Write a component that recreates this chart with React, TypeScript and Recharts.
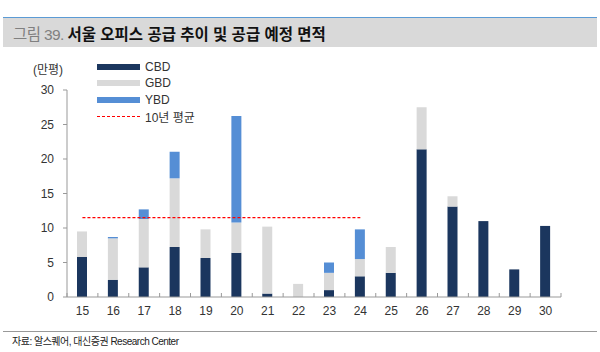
import { ComposedChart, Bar, Line, XAxis, YAxis } from 'recharts';

const years = ['15', '16', '17', '18', '19', '20', '21', '22', '23', '24', '25', '26', '27', '28', '29', '30'];
const cbd = [5.8, 2.5, 4.3, 7.25, 5.65, 6.4, 0.5, 0, 1.0, 3.0, 3.5, 21.4, 13.1, 11.0, 4.0, 10.3];
const gbd = [3.7, 6.0, 7.0, 9.95, 4.15, 4.4, 9.7, 1.9, 2.5, 2.5, 3.75, 6.1, 1.5, 0, 0, 0];
const ybd = [0, 0.2, 1.4, 3.85, 0, 15.45, 0, 0, 1.5, 4.3, 0, 0, 0, 0, 0, 0];
const avg10 = [11.5, 11.5, 11.5, 11.5, 11.5, 11.5, 11.5, 11.5, 11.5, 11.5, null, null, null, null, null, null];
const yTicks = [0, 5, 10, 15, 20, 25, 30];

const data = years.map((y, i) => ({ year: y, cbd: cbd[i], gbd: gbd[i], ybd: ybd[i], avg: avg10[i] }));

const FONT = 'Arial, "Liberation Sans", "Noto Sans CJK KR", sans-serif';
const CBD_COLOR = '#1b365e';
const GBD_COLOR = '#d9d9d9';
const YBD_COLOR = '#558ed5';
const BAND = 494 / 16;

function XTick(props: any) {
  const { x, y, payload, index } = props;
  return (
    <g>
      <line x1={x - BAND / 2} x2={x - BAND / 2} y1={y - 4} y2={y} stroke="#999" />
      {index === years.length - 1 && (
        <line x1={x + BAND / 2} x2={x + BAND / 2} y1={y - 4} y2={y} stroke="#999" />
      )}
      <text x={x} y={y + 18} textAnchor="middle" fontSize={12} fill="#333" fontFamily={FONT}>
        {payload.value}
      </text>
    </g>
  );
}

const legendItems = [
  { label: 'CBD', color: CBD_COLOR, dashed: false },
  { label: 'GBD', color: GBD_COLOR, dashed: false },
  { label: 'YBD', color: YBD_COLOR, dashed: false },
  { label: '10년 평균', color: '#ff0000', dashed: true },
];

export default function App() {
  return (
    <div style={{ position: 'absolute', left: 0, top: 0, width: 600, height: 352, background: '#fff', fontFamily: FONT }}>
      {/* title bar */}
      <div style={{ position: 'absolute', left: 3, top: 17, width: 594, height: 30, background: '#d9d9d9', borderTop: '1px solid #5b9bd5', boxSizing: 'border-box' }}>
        <div style={{ position: 'absolute', left: 10, top: 4, fontSize: 15.5, whiteSpace: 'nowrap' }}>
          <span style={{ color: '#808080', letterSpacing: -0.6 }}>그림 39. </span>
          <span style={{ color: '#111', fontWeight: 'bold' }}>서울 오피스 공급 추이 및 공급 예정 면적</span>
        </div>
      </div>

      <div style={{ position: 'absolute', left: 33, top: 60, fontSize: 12, color: '#333' }}>(만평)</div>

      <div style={{ position: 'absolute', left: 0, top: 0 }}>
        <ComposedChart width={600} height={352} data={data} margin={{ top: 90, right: 39, bottom: 25, left: 0 }} barSize={10}>
          <XAxis
            dataKey="year"
            height={30}
            tickSize={0}
            tickMargin={0}
            tickLine={false}
            axisLine={{ stroke: '#999' }}
            tick={<XTick />}
            interval={0}
          />
          <YAxis
            width={67}
            domain={[0, 30]}
            ticks={yTicks}
            tickSize={4}
            tickMargin={9}
            axisLine={{ stroke: '#999' }}
            tickLine={{ stroke: '#999' }}
            tick={{ fontSize: 12, fill: '#333', fontFamily: FONT }}
          />
          <Bar dataKey="cbd" stackId="a" fill={CBD_COLOR} isAnimationActive={false} />
          <Bar dataKey="gbd" stackId="a" fill={GBD_COLOR} isAnimationActive={false} />
          <Bar dataKey="ybd" stackId="a" fill={YBD_COLOR} isAnimationActive={false} />
          <Line
            dataKey="avg"
            type="linear"
            stroke="#ff0000"
            strokeWidth={1.2}
            strokeDasharray="3 2"
            dot={false}
            activeDot={false}
            connectNulls={false}
            isAnimationActive={false}
          />
        </ComposedChart>
      </div>

      {/* legend */}
      <div style={{ position: 'absolute', left: 97, top: 59 }}>
        {legendItems.map((it) => (
          <div key={it.label} style={{ display: 'flex', alignItems: 'center', height: 16.3 }}>
            {it.dashed ? (
              <div style={{ width: 43, height: 0, borderTop: `1.2px dashed ${it.color}` }} />
            ) : (
              <div style={{ width: 43, height: 6, background: it.color }} />
            )}
            <span style={{ marginLeft: 5, fontSize: 12, color: '#333', whiteSpace: 'nowrap' }}>{it.label}</span>
          </div>
        ))}
      </div>

      {/* footer */}
      <div style={{ position: 'absolute', left: 3, top: 331, width: 594, height: 0, borderTop: '1px solid #999' }} />
      <div style={{ position: 'absolute', left: 12, top: 333, fontSize: 10, color: '#222', letterSpacing: -0.5, whiteSpace: 'nowrap' }}>
        자료: 알스퀘어, 대신증권 Research Center
      </div>
    </div>
  );
}
